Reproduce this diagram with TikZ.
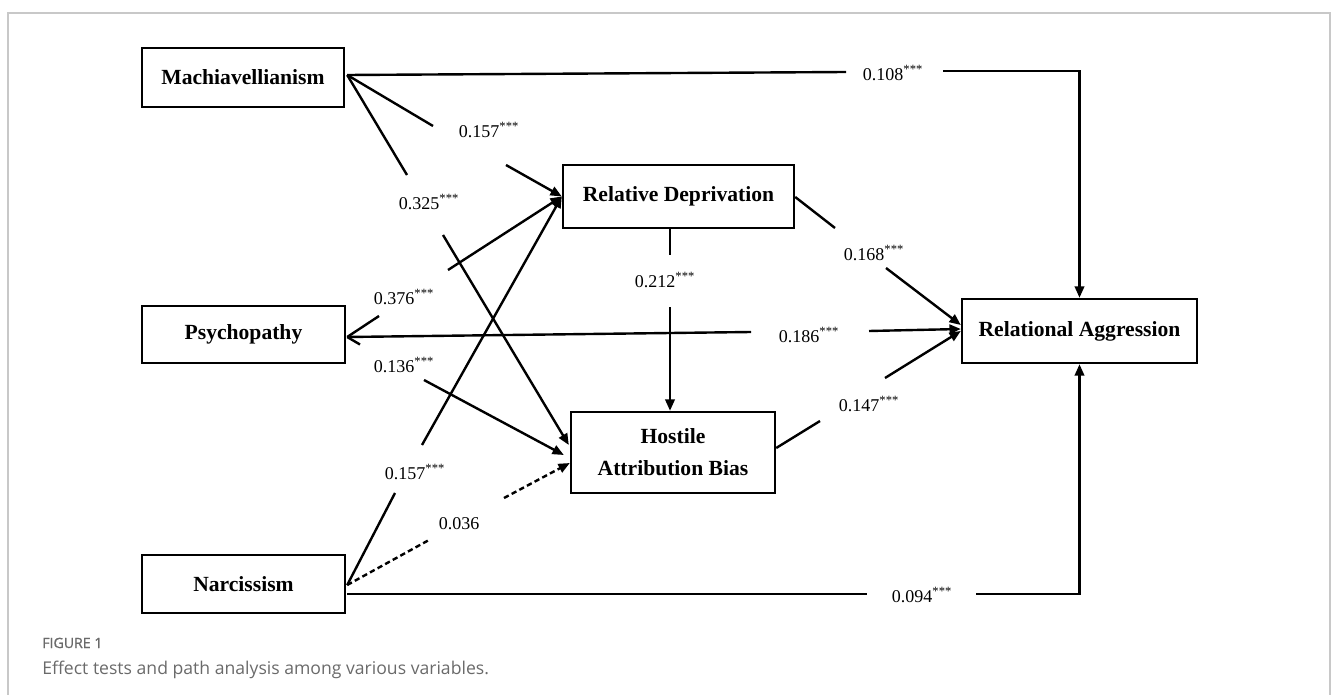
\documentclass[tikz,border=0pt]{standalone}
\usepackage{fontspec}
\setmainfont{Liberation Serif}
\newfontfamily\capfont{Open Sans}
\newfontfamily\capfontb[FakeBold=0.8]{Open Sans}
\usetikzlibrary{arrows.meta,calc}
\definecolor{capgray}{HTML}{6A6A6A}
\definecolor{framegray}{HTML}{C8C8C8}
\begin{document}
\begin{tikzpicture}[x=0.75pt,y=-0.75pt,
  var/.style={draw, line width=1.8pt, inner sep=0pt, align=center,
    font=\fontsize{16.2}{24}\selectfont\bfseries},
  num/.style={font=\fontsize{13.5}{16}\selectfont, inner sep=0pt},
  conn/.style={line width=1.8pt},
  arr/.style={conn, -{Triangle[length=8.5pt,width=7pt]}},
  dsh/.style={dash pattern=on 4pt off 2.5pt},
  frame/.style={draw=framegray, line width=0.8pt}]
\useasboundingbox (0,0) rectangle (1331,695);
% frame
\draw[frame] (8,695) -- (8,13) -- (1330,13) -- (1330,695);

% variables
\node[var, minimum width=151.5pt, minimum height=44.25pt] (mach) at (243,77.5) {Machiavellianism};
\node[var, minimum width=152.25pt, minimum height=42.75pt] (psy) at (243.5,334.5) {Psychopathy};
\node[var, minimum width=152.25pt, minimum height=43.5pt] (nar) at (243.5,584) {Narcissism};
\node[var, minimum width=173.25pt, minimum height=47.25pt] (rd) at (678.5,196.5) {Relative Deprivation};
\node[var, minimum width=153pt, minimum height=60.75pt] (ha) at (673,452.5) {Hostile\\Attribution Bias};
\node[var, minimum width=176.25pt, minimum height=48pt] (ra) at (1079.5,331) {Relational Aggression};

% start points
\coordinate (ms) at ($(mach.east)+(2,-2.5)$);
\coordinate (ps) at ($(psy.east)+(1,2.5)$);
\coordinate (ns) at ($(nar.east)+(1,1)$);
% end points
\coordinate (ha1) at ($(ha.west)+(-1,-7.5)$);
\coordinate (ha2) at ($(ha.west)+(-6,2.5)$);
\coordinate (ha3) at ($(ha.west)+(0,10.5)$);
\coordinate (ra1) at ($(ra.west)+(0,-6)$);
\coordinate (ra2) at ($(ra.west)+(0,-2)$);
\coordinate (ra3) at ($(ra.west)+(0,0)$);

% Mach -> RA (top)
\coordinate (t1) at (846,72);
\coordinate (t2) at (943,71);
\coordinate (tc) at (ra.north |- t2);
\draw[conn] (ms) -- (t1);
\draw[arr] (t2) -- (tc) -- (ra.north);
\node[num] at (893,73) {0.108\textsuperscript{***}};

% Nar -> RA (bottom)
\coordinate (b0) at ($(nar.east)+(1,10)$);
\coordinate (b1) at (867,594);
\coordinate (b2) at (976,594);
\coordinate (bc) at (ra.south |- b2);
\draw[conn] (b0) -- (b1);
\draw[arr] (b2) -- (bc) -- (ra.south);
\node[num] at (922,595) {0.094\textsuperscript{***}};

% Mach -> RD
\coordinate (m1a) at (433,126);
\coordinate (m1b) at (506,165);
\draw[conn] (ms) -- (m1a);
\draw[arr] (m1b) -- (rd.west);
\node[num] at (489,130) {0.157\textsuperscript{***}};

% Mach -> HA
\coordinate (m2a) at (407,175);
\coordinate (m2b) at (443,235);
\draw[conn] (ms) -- (m2a);
\draw[arr] (m2b) -- (ha1);
\node[num] at (429,202) {0.325\textsuperscript{***}};

% Psy -> RD
\coordinate (p1a) at (379,316);
\coordinate (p1b) at (448,270);
\draw[conn] (ps) -- (p1a);
\draw[arr] (p1b) -- (rd.west);
\node[num] at (404,297) {0.376\textsuperscript{***}};

% Psy -> RA
\coordinate (p2a) at (751,332);
\coordinate (p2b) at (869,331);
\draw[conn] (ps) -- (p2a);
\draw[arr] (p2b) -- (ra2);
\node[num] at (809,335) {0.186\textsuperscript{***}};

% Psy -> HA
\coordinate (p3a) at (360,344.5);
\coordinate (p3b) at (424,380);
\draw[conn] (ps) -- (p3a);
\draw[arr] (p3b) -- (ha2);
\node[num] at (404,365) {0.136\textsuperscript{***}};

% Nar -> RD
\coordinate (n1a) at (395,493);
\coordinate (n1b) at (422,445);
\draw[conn] (ns) -- (n1a);
\draw[arr] (n1b) -- (rd.west);
\node[num] at (415,472) {0.157\textsuperscript{***}};

% Nar -> HA (dashed)
\coordinate (n2a) at (429,540);
\coordinate (n2b) at (504,498);
\draw[conn,dsh] (ns) -- (n2a);
\draw[arr,dsh] (n2b) -- (ha3);
\node[num] at (459,524) {0.036};

% RD -> HA
\coordinate (r1s) at (rd.south -| 670,0);
\coordinate (r1a) at (670,255);
\coordinate (r1b) at (670,307);
\coordinate (r1e) at (ha.north -| 670,0);
\draw[conn] (r1s) -- (r1a);
\draw[arr] (r1b) -- (r1e);
\node[num] at (665,280) {0.212\textsuperscript{***}};

% RD -> RA
\coordinate (r2a) at (835,228);
\coordinate (r2b) at (886,268);
\draw[conn] ($(rd.east)+(0,0.5)$) -- (r2a);
\draw[arr] (r2b) -- (ra1);
\node[num] at (874,253) {0.168\textsuperscript{***}};

% HA -> RA
\coordinate (h1a) at (820,421);
\coordinate (h1b) at (885,378);
\draw[conn] ($(ha.east)+(0,-4.5)$) -- (h1a);
\draw[arr] (h1b) -- (ra3);
\node[num] at (869,404) {0.147\textsuperscript{***}};

% caption
\node[anchor=base west, inner sep=0pt, text=capgray, font=\capfontb\fontsize{10.6}{12}\selectfont] (fig) at (42,648) {FIGURE 1};
\node[anchor=base west, inner sep=0pt, text=capgray, font=\capfont\fontsize{13.2}{15}\selectfont] (cap) at (42,674) {Effect tests and path analysis among various variables.};
\end{tikzpicture}
\end{document}
